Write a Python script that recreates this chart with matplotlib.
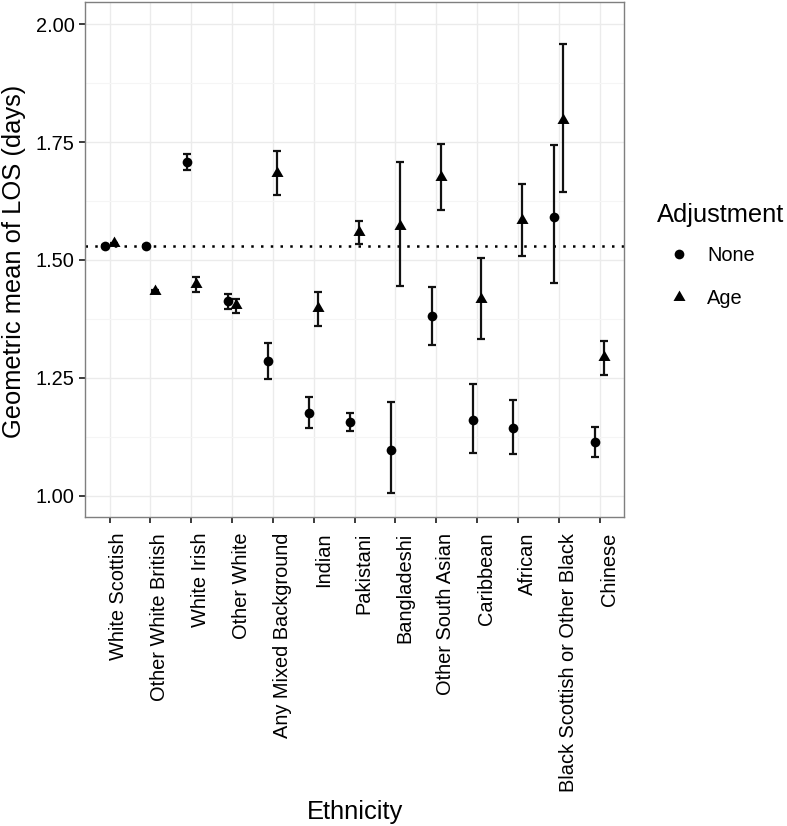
import numpy as np
import matplotlib
matplotlib.use("Agg")
import matplotlib.pyplot as plt
from matplotlib.lines import Line2D
from matplotlib.ticker import MultipleLocator, FormatStrFormatter

plt.rcParams['font.family'] = ['Liberation Sans', 'DejaVu Sans']

categories = ["White Scottish", "Other White British", "White Irish", "Other White",
              "Any Mixed Background", "Indian", "Pakistani", "Bangladeshi",
              "Other South Asian", "Caribbean", "African",
              "Black Scottish or Other Black", "Chinese"]

none_mean  = [1.530, 1.530, 1.708, 1.412, 1.286, 1.176, 1.157, 1.097, 1.381, 1.161, 1.144, 1.591, 1.115]
none_lower = [1.528, 1.528, 1.690, 1.395, 1.247, 1.144, 1.138, 1.005, 1.320, 1.090, 1.088, 1.452, 1.083]
none_upper = [1.532, 1.532, 1.725, 1.428, 1.323, 1.209, 1.176, 1.198, 1.442, 1.236, 1.203, 1.743, 1.146]

age_mean  = [1.535, 1.434, 1.449, 1.405, 1.684, 1.398, 1.559, 1.572, 1.676, 1.417, 1.585, 1.797, 1.294]
age_lower = [1.533, 1.432, 1.433, 1.388, 1.637, 1.361, 1.533, 1.445, 1.605, 1.332, 1.509, 1.645, 1.256]
age_upper = [1.537, 1.436, 1.463, 1.417, 1.731, 1.432, 1.583, 1.707, 1.746, 1.504, 1.661, 1.958, 1.329]

reference_value = 1.530
y_ticks = [1.00, 1.25, 1.50, 1.75, 2.00]

W, H = 787, 826
fig = plt.figure(figsize=(W / 100, H / 100), dpi=100)
ax = fig.add_axes([85 / W, 1 - 517 / H, (624 - 85) / W, (517 - 2) / H])

x = np.arange(len(categories))
dodge = 0.11

tri = [(-1.0, -0.577), (1.0, -0.577), (0.0, 1.155)]
CIRC_MS = 7.0
TRI_MS = 10.0

def draw(xpos, mean, lo, hi, marker, ms):
    mean = np.array(mean); lo = np.array(lo); hi = np.array(hi)
    ax.errorbar(xpos, mean, yerr=[mean - lo, hi - mean], fmt='none',
                ecolor='#111111', elinewidth=1.6, capsize=2.6, capthick=1.6, zorder=3)
    ax.plot(xpos, mean, linestyle='none', marker=marker, markersize=ms,
            color='black', markeredgewidth=0, zorder=4)

ax.axhline(reference_value, color='black', linewidth=1.8,
           linestyle=(0, (1, 2.9)), zorder=2)
draw(x - dodge, none_mean, none_lower, none_upper, 'o', CIRC_MS)
draw(x + dodge, age_mean, age_lower, age_upper, tri, TRI_MS)

ax.set_xlim(-0.6, len(categories) - 1 + 0.6)
ax.set_ylim(0.955, 2.047)
ax.set_xticks(x)
ax.set_xticklabels(categories, rotation=90, ha='left', va='top', fontsize=14.4, color='black')
ax.set_yticks(y_ticks)
ax.yaxis.set_major_formatter(FormatStrFormatter('%.2f'))
ax.yaxis.set_minor_locator(MultipleLocator(0.125))
ax.tick_params(axis='both', which='major', length=4.5, width=1.2, color='#1a1a1a',
               labelcolor='black')
ax.tick_params(axis='y', labelsize=14.4)
ax.tick_params(axis='x', pad=7)
ax.tick_params(axis='y', pad=3)
ax.tick_params(axis='y', which='minor', length=0)

ax.grid(True, which='major', color='#ebebeb', linewidth=1.0, zorder=0)
ax.grid(True, which='minor', axis='y', color='#f5f5f5', linewidth=0.8, zorder=0)
ax.set_axisbelow(True)
for sp in ax.spines.values():
    sp.set_color('#7f7f7f')
    sp.set_linewidth(1.0)

fig.text(14 / W, 1 - 261 / H, "Geometric mean of LOS (days)", rotation=90,
         ha='center', va='center', fontsize=18.4)
fig.text(355 / W, 1 - 812 / H, "Ethnicity", ha='center', va='center', fontsize=18.4)

fig.text(657 / W, 1 - 215 / H, "Adjustment", ha='left', va='center', fontsize=18.4)
handles = [Line2D([], [], linestyle='none', marker='o', markersize=CIRC_MS, color='black', markeredgewidth=0),
           Line2D([], [], linestyle='none', marker=tri, markersize=TRI_MS, color='black', markeredgewidth=0)]
leg = ax.legend(handles, ["None", "Age"], loc='upper left',
                bbox_to_anchor=(659 / W, 1 - 246 / H), bbox_transform=fig.transFigure,
                frameon=False, borderpad=0, borderaxespad=0, handletextpad=0.4,
                handlelength=2.0, labelspacing=1.2, fontsize=14.4)

fig.savefig("out.png", dpi=100)
